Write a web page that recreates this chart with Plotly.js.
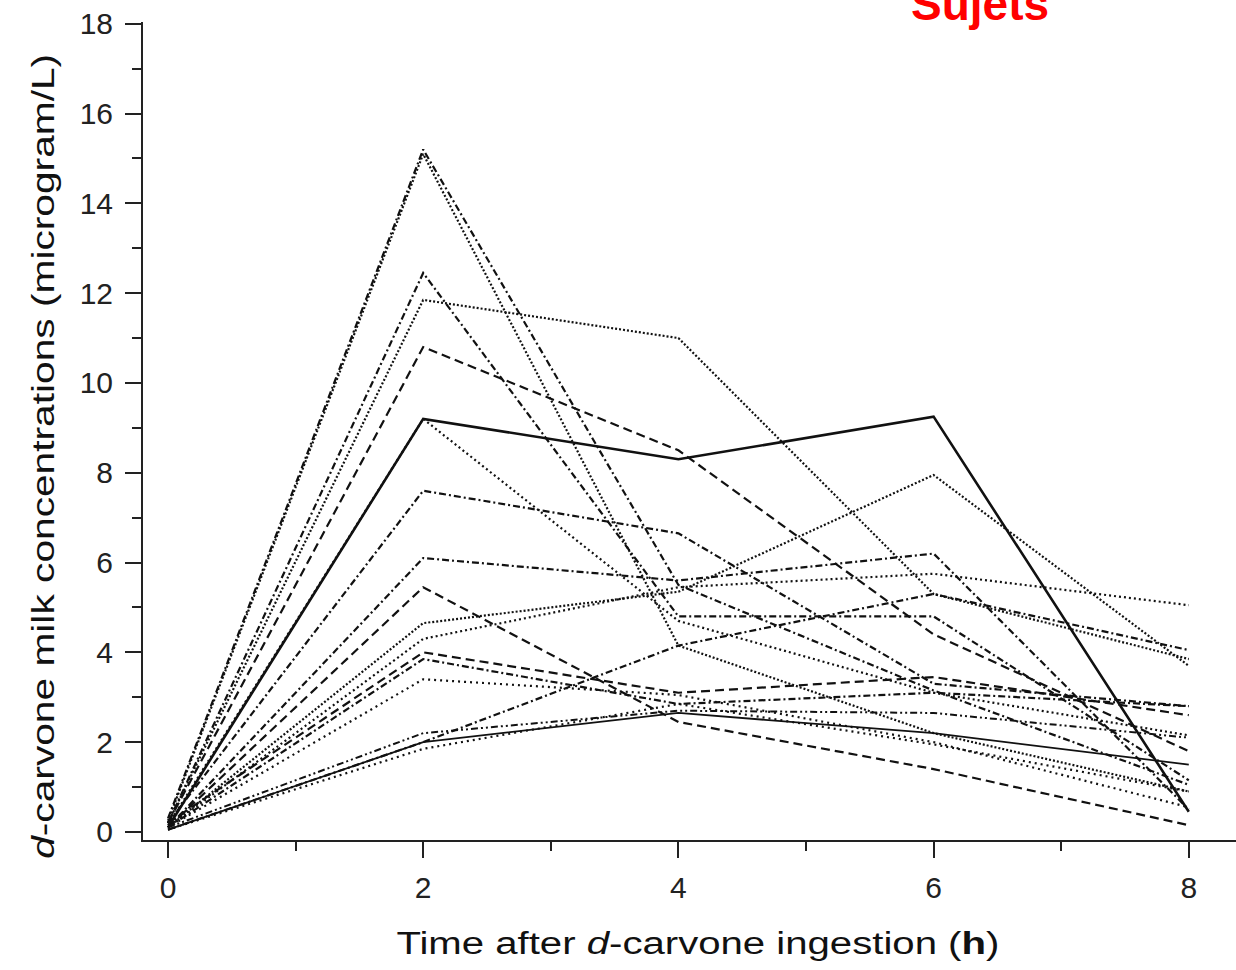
<!DOCTYPE html>
<html>
<head>
<meta charset="utf-8">
<script src="https://cdn.plot.ly/plotly-3.0.1.min.js"></script>
<style>html,body{margin:0;padding:0;background:#fff;}#chart{width:1236px;height:970px;}</style>
</head>
<body>
<div id="chart"></div>
<script>
// Sampling times (h)
const times = [0, 2, 4, 6, 8];

// Per-subject d-carvone milk concentrations (microgram/L)
const s1  = [0.10, 9.20, 8.30, 9.25, 0.45];
const s2  = [0.20, 11.85, 11.00, 5.30, 3.85];
const s3  = [0.10, 4.65, 5.35, 7.95, 3.70];
const s4  = [0.30, 15.20, 5.50, 3.15, 1.05];
const s5  = [0.25, 15.10, 4.15, 2.20, 0.90];
const s6  = [0.20, 12.45, 4.80, 4.80, 1.15];
const s7  = [0.20, 10.80, 8.50, 4.40, 1.80];
const s8  = [0.20, 7.60, 6.65, 3.30, 2.80];
const s9  = [0.10, 6.10, 5.60, 6.20, 0.50];
const s10 = [0.15, 9.20, 4.70, 3.10, 2.15];
const s11 = [0.10, 5.45, 2.45, 1.40, 0.15];
const s12 = [0.10, 4.30, 5.45, 5.75, 5.05];
const s13 = [0.20, 4.00, 3.10, 3.45, 2.60];
const s14 = [0.10, 3.85, 2.85, 3.10, 2.80];
const s15 = [0.10, 3.40, 3.05, 2.00, 0.55];
const s16 = [0.05, 2.00, 4.15, 5.30, 4.05];
const s17 = [0.05, 2.00, 2.65, 2.20, 1.50];
const s18 = [0.10, 2.20, 2.70, 2.65, 2.10];
const s19 = [0.05, 1.85, 2.85, 1.95, 0.90];

const subjects = [s1,s2,s3,s4,s5,s6,s7,s8,s9,s10,s11,s12,s13,s14,s15,s16,s17,s18,s19];
const subjectDash = ['solid','2px,2px','2px,2px','7px,3px,2px,3px','2px,2px','7px,3px,2px,3px','9px,5px',
  '7px,3px,2px,3px','7px,3px,2px,3px','2px,3px','9px,5px','2px,3px','9px,5px','7px,3px,2px,3px',
  '2px,4px','7px,3px,2px,3px','solid','7px,3px,2px,3px,2px,3px','2px,4px'];
const subjectWidth = [2.6,2.2,2.2,2.2,2.2,2.2,2.2,2.2,2.2,2.2,2.2,2.2,2.2,2.2,2.2,2.2,1.8,2,2.2];

// Axis ticks
const yTicks = [0, 2, 4, 6, 8, 10, 12, 14, 16, 18];
const xTicks = [0, 2, 4, 6, 8];

const traces = subjects.map((vals, i) => ({
  x: times, y: vals, type: 'scatter', mode: 'lines',
  name: 'Sujet ' + (i + 1), showlegend: false,
  line: {color: '#111', width: subjectWidth[i], dash: subjectDash[i]}
}));

const W = 1236, H = 970;
const L = 143, R = 0, T = 22, B = 130;
const pw = W - L - R, ph = H - T - B;
const px = v => (v - L) / pw;
const py = v => (H - B - v) / ph;

const tickFont = {family: 'Liberation Sans, Arial, sans-serif', size: 30, color: '#222'};
const titleFont = {family: 'Liberation Sans, Arial, sans-serif', size: 31, color: '#111'};

const layout = {
  width: W, height: H,
  margin: {l: L, r: R, t: T, b: B, pad: 0},
  paper_bgcolor: '#fff', plot_bgcolor: '#fff',
  showlegend: false,
  xaxis: {
    range: [-0.196, 8.37], tickvals: xTicks, ticktext: xTicks.map(String),
    showgrid: false, zeroline: false, showline: true, linewidth: 2, linecolor: '#222',
    ticks: 'outside', ticklen: 16, tickwidth: 2, tickcolor: '#222',
    minor: {dtick: 1, tick0: 0, ticks: 'outside', ticklen: 9, tickwidth: 2, tickcolor: '#222'},
    tickfont: tickFont, ticklabelstandoff: 4, fixedrange: true
  },
  yaxis: {
    range: [-0.18, 18.04], tickvals: yTicks, ticktext: yTicks.map(String),
    showgrid: false, zeroline: false, showline: true, linewidth: 2, linecolor: '#222',
    ticks: 'outside', ticklen: 16, tickwidth: 2, tickcolor: '#222',
    minor: {dtick: 1, tick0: 0, ticks: 'outside', ticklen: 9, tickwidth: 2, tickcolor: '#222'},
    tickfont: tickFont, ticklabelstandoff: 6, fixedrange: true
  },
  annotations: [
    {text: '<i>d</i>-carvone milk concentrations (microgram/L)', xref: 'paper', yref: 'paper',
     x: px(43), y: py(457), xanchor: 'center', yanchor: 'middle', textangle: -90,
     showarrow: false, font: titleFont},
    {text: 'Time after <i>d</i>-carvone ingestion (<b>h</b>)', xref: 'paper', yref: 'paper',
     x: px(698), y: py(943), xanchor: 'center', yanchor: 'middle',
     showarrow: false, font: titleFont},
    {text: '<b>Sujets</b>', xref: 'paper', yref: 'paper',
     x: px(980), y: py(4), xanchor: 'center', yanchor: 'middle',
     showarrow: false, font: {family: 'Liberation Sans, Arial, sans-serif', size: 46, color: '#ff0000'}}
  ]
};

Plotly.newPlot('chart', traces, layout, {staticPlot: true, displayModeBar: false}).then(gd => {
  // The original figure's axis titles are stretched along their length
  const stretch = [805, 603];
  const texts = gd.querySelectorAll('.annotation-text');
  texts.forEach((t, i) => {
    if (i < stretch.length) {
      t.setAttribute('textLength', stretch[i]);
      t.setAttribute('lengthAdjust', 'spacingAndGlyphs');
    }
  });
});
</script>
</body>
</html>
